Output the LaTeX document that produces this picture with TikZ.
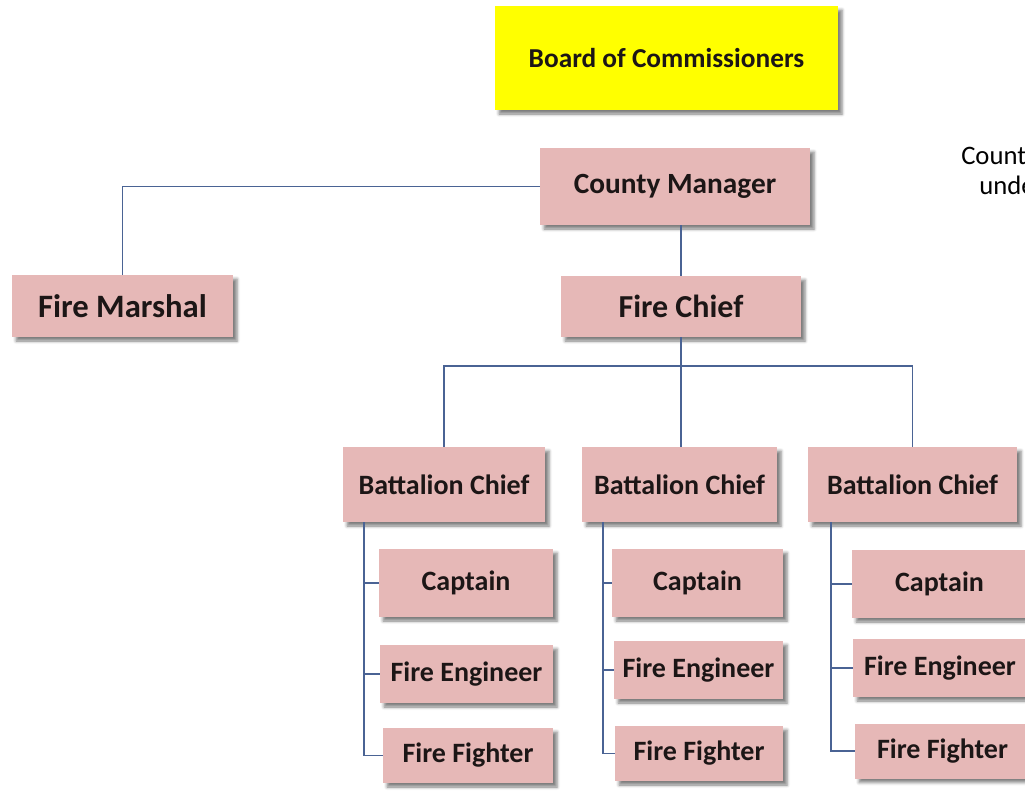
\documentclass[tikz,border=0pt]{standalone}
\usepackage{fontspec}
\setmainfont{Carlito}
\usetikzlibrary{shadows.blur}
\definecolor{boxpink}{RGB}{230,184,183}
\definecolor{boardyellow}{RGB}{255,255,0}
\definecolor{linec}{RGB}{74,99,148}
\definecolor{txt}{RGB}{28,22,22}
\newdimen\pxu \pxu=0.75pt
\tikzset{
  orgbox/.style={fill=boxpink, text=txt, inner sep=0pt, align=center,
    blur shadow={shadow xshift=4\pxu, shadow yshift=-4\pxu, shadow blur radius=3\pxu, shadow opacity=50}},
  boardtxt/.style={font=\bfseries\fontsize{20.5}{25}\selectfont},
  cmtxt/.style={font=\bfseries\fontsize{22}{26}\selectfont},
  fmtxt/.style={font=\bfseries\fontsize{24.5}{29}\selectfont},
  fctxt/.style={font=\bfseries\fontsize{24}{28}\selectfont},
  smalltxt/.style={font=\bfseries\fontsize{21}{25}\selectfont},
  link/.style={draw=linec, line width=1.2pt},
  note/.style={font=\fontsize{20}{25}\selectfont, text=black, inner sep=0pt, anchor=base west}
}
\begin{document}
\begin{tikzpicture}[x=0.75pt,y=-0.75pt]
\useasboundingbox (0,0) rectangle (1025,790);
\clip (0,0) rectangle (1025,790);
% top
\node[orgbox, boardtxt, fill=boardyellow, minimum width=343\pxu, minimum height=104\pxu] (board) at (666.5,58) {Board of Commissioners};
\node[orgbox, cmtxt, minimum width=270\pxu, minimum height=77\pxu] (cm) at (675,186.5) {County Manager};
\node[orgbox, fmtxt, minimum width=221\pxu, minimum height=62\pxu] (fm) at (122.5,306) {Fire Marshal};
\node[orgbox, fctxt, minimum width=240\pxu, minimum height=61\pxu] (fc) at (681,306.5) {Fire Chief};
% note text (cut by the page edge)
\node[note] (n1) at (961,164) {Count};
\node[note] (n2) at (979,194) {unde};
% battalion chiefs
\node[orgbox, smalltxt, minimum width=202\pxu, minimum height=75\pxu] (bc1) at (444,484.5) {Battalion Chief};
\node[orgbox, smalltxt, minimum width=195\pxu, minimum height=75\pxu] (bc2) at (679.5,484.5) {Battalion Chief};
\node[orgbox, smalltxt, minimum width=209\pxu, minimum height=75\pxu] (bc3) at (912.5,484.5) {Battalion Chief};
% column 1
\node[orgbox, smalltxt, minimum width=174\pxu, minimum height=68\pxu] (cap1) at (466,583) {Captain};
\node[orgbox, smalltxt, minimum width=173\pxu, minimum height=58\pxu] (fe1) at (466.5,674) {Fire Engineer};
\node[orgbox, smalltxt, minimum width=170\pxu, minimum height=55\pxu] (ff1) at (468,755.5) {Fire Fighter};
% column 2
\node[orgbox, smalltxt, minimum width=171\pxu, minimum height=68\pxu] (cap2) at (697.5,583) {Captain};
\node[orgbox, smalltxt, minimum width=169\pxu, minimum height=58\pxu] (fe2) at (698.5,670) {Fire Engineer};
\node[orgbox, smalltxt, minimum width=168\pxu, minimum height=55\pxu] (ff2) at (699,753.5) {Fire Fighter};
% column 3
\node[orgbox, smalltxt, minimum width=175\pxu, minimum height=68\pxu] (cap3) at (939.5,584) {Captain};
\node[orgbox, smalltxt, minimum width=174\pxu, minimum height=58\pxu] (fe3) at (940,668) {Fire Engineer};
\node[orgbox, smalltxt, minimum width=175\pxu, minimum height=55\pxu] (ff3) at (942.5,751) {Fire Fighter};
% connectors
\draw[link] (cm.west) -| (fm.north);
\draw[link] (fc.north) -- (fc.north |- cm.south);
\coordinate (hbar) at (0,366);
\draw[link] (fc.south) -- (fc.south |- bc2.north);
\draw[link] (bc1.north) |- (bc3.north |- hbar) -- (bc3.north);
\coordinate (v1) at ([xshift=21\pxu]bc1.south west);
\coordinate (v2) at ([xshift=21\pxu]bc2.south west);
\coordinate (v3) at ([xshift=23\pxu]bc3.south west);
\draw[link] (v1) |- (ff1.west);
\draw[link] (v1 |- cap1.west) -- (cap1.west);
\draw[link] (v1 |- fe1.west) -- (fe1.west);
\draw[link] (v2) |- (ff2.west);
\draw[link] (v2 |- cap2.west) -- (cap2.west);
\draw[link] (v2 |- fe2.west) -- (fe2.west);
\draw[link] (v3) |- (ff3.west);
\draw[link] (v3 |- cap3.west) -- (cap3.west);
\draw[link] (v3 |- fe3.west) -- (fe3.west);
\end{tikzpicture}
\end{document}
